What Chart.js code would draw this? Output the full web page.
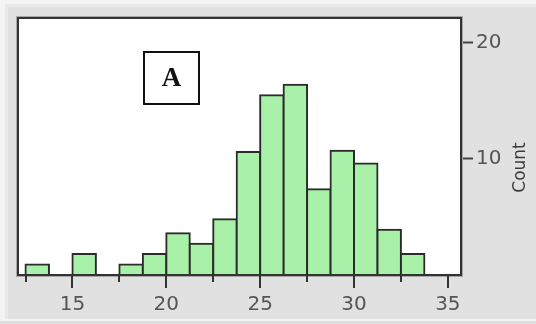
<!DOCTYPE html>
<html>
<head>
<meta charset="utf-8">
<script src="https://cdn.jsdelivr.net/npm/chart.js@4/dist/chart.umd.min.js"></script>
<style>
  html, body { margin: 0; padding: 0; background: #ffffff; }
  #wrap { width: 536px; height: 324px; }
</style>
</head>
<body>
<div id="wrap"><canvas id="hist" width="536" height="324"></canvas></div>
<script>
// Histogram bins (centre of each 1.25-wide bin) and bar heights
const binCenters = [13.125, 14.375, 15.625, 16.875, 18.125, 19.375, 20.625, 21.875, 23.125,
                    24.375, 25.625, 26.875, 28.125, 29.375, 30.625, 31.875, 33.125, 34.375];
const counts = [0.9, 0, 1.8, 0, 0.9, 1.8, 3.6, 2.7, 4.8,
                10.6, 15.5, 16.4, 7.4, 10.7, 9.6, 3.9, 1.8, 0];

// Axis ticks
const xTicks = [12.5, 15, 17.5, 20, 22.5, 25, 27.5, 30, 32.5, 35];
const xLabeled = [15, 20, 25, 30, 35];
const yTicks = [10, 20];

const panelLabel = 'A';
const countTitle = 'Count';

const framePlugin = {
  id: 'frame',
  beforeDraw(chart) {
    const { ctx, width, height, chartArea: a } = chart;
    ctx.save();
    // outer page and grey panel
    ctx.fillStyle = '#f4f4f4';
    ctx.fillRect(0, 0, width, height);
    ctx.fillStyle = '#e9e9e9';
    ctx.fillRect(5, 4, width - 5, 318);
    ctx.fillStyle = '#e1e1e1';
    ctx.fillRect(8, 7, width - 8, 312);
    ctx.fillStyle = '#f3f3f3';
    ctx.fillRect(0, 319, width, 2);
    ctx.fillStyle = '#dedede';
    ctx.fillRect(0, 321, width, 3);
    // white plotting area
    ctx.fillStyle = '#ffffff';
    ctx.fillRect(a.left, a.top, a.right - a.left, a.bottom - a.top);
    ctx.restore();
  },
  afterDatasetsDraw(chart) {
    const { ctx, chartArea: a, scales } = chart;
    ctx.save();
    // frame round the plotting area
    ctx.strokeStyle = '#a8a8a8';
    ctx.lineWidth = 1;
    ctx.strokeRect(a.left - 1.5, a.top - 1.5, a.right - a.left + 3, a.bottom - a.top + 3);
    ctx.strokeStyle = '#333333';
    ctx.lineWidth = 2;
    ctx.strokeRect(a.left, a.top, a.right - a.left, a.bottom - a.top);

    // x tick marks: long at labelled values, short between
    const xs = scales.x;
    ctx.strokeStyle = '#333333';
    ctx.lineWidth = 2;
    xTicks.forEach(v => {
      const px = Math.round(xs.getPixelForValue(v));
      const len = xLabeled.includes(v) ? 13 : 7;
      ctx.beginPath();
      ctx.moveTo(px, a.bottom);
      ctx.lineTo(px, a.bottom + len);
      ctx.stroke();
    });

    // panel letter in a box
    const bx = a.left + 126, by = a.top + 34, bw = 55, bh = 52;
    ctx.fillStyle = '#ffffff';
    ctx.fillRect(bx, by, bw, bh);
    ctx.strokeStyle = '#111111';
    ctx.lineWidth = 2;
    ctx.strokeRect(bx, by, bw, bh);
    ctx.fillStyle = '#111111';
    ctx.font = 'bold 27px "Liberation Serif", "Times New Roman", serif';
    ctx.textAlign = 'center';
    ctx.textBaseline = 'middle';
    ctx.fillText(panelLabel, bx + bw / 2, by + bh / 2 + 1);

    // y-axis title, reading upwards
    ctx.translate(520, (a.top + a.bottom) / 2 + 21);
    ctx.rotate(-Math.PI / 2);
    ctx.fillStyle = '#3c3c3c';
    ctx.font = '17px "DejaVu Sans", sans-serif';
    ctx.textAlign = 'center';
    ctx.textBaseline = 'middle';
    ctx.fillText(countTitle, 0, 1);
    ctx.restore();
  }
};

new Chart(document.getElementById('hist'), {
  type: 'bar',
  data: {
    datasets: [{
      data: binCenters.map((c, i) => ({ x: c, y: counts[i] })),
      backgroundColor: '#a9f0a9',
      borderColor: '#2b2b2b',
      borderWidth: 2,
      inflateAmount: 1,
      barPercentage: 1,
      categoryPercentage: 1
    }]
  },
  options: {
    responsive: false,
    animation: false,
    events: [],
    layout: { padding: { left: 18, top: 18, right: 0, bottom: 0 } },
    plugins: { legend: { display: false }, tooltip: { enabled: false } },
    scales: {
      x: {
        type: 'linear',
        position: 'bottom',
        min: 12.1,
        max: 35.7,
        offset: false,
        afterBuildTicks: s => { s.ticks = xTicks.map(v => ({ value: v })); },
        afterFit: s => { s.height = 49; },
        grid: { display: true, drawOnChartArea: false, drawTicks: false },
        border: { display: false },
        ticks: {
          autoSkip: false,
          maxRotation: 0,
          padding: 18,
          color: '#555555',
          font: { family: '"DejaVu Sans", sans-serif', size: 20 },
          callback: v => (xLabeled.includes(v) ? String(v) : '')
        }
      },
      y: {
        type: 'linear',
        position: 'right',
        min: 0,
        max: 22.15,
        afterBuildTicks: s => { s.ticks = yTicks.map(v => ({ value: v })); },
        afterFit: s => { s.width = 75; },
        grid: { drawOnChartArea: false, tickLength: 12, tickWidth: 2, tickColor: '#444444' },
        border: { display: false },
        ticks: {
          padding: 3,
          color: '#555555',
          font: { family: '"DejaVu Sans", sans-serif', size: 20 },
          callback: v => String(v)
        }
      }
    }
  },
  plugins: [framePlugin]
});
</script>
</body>
</html>
